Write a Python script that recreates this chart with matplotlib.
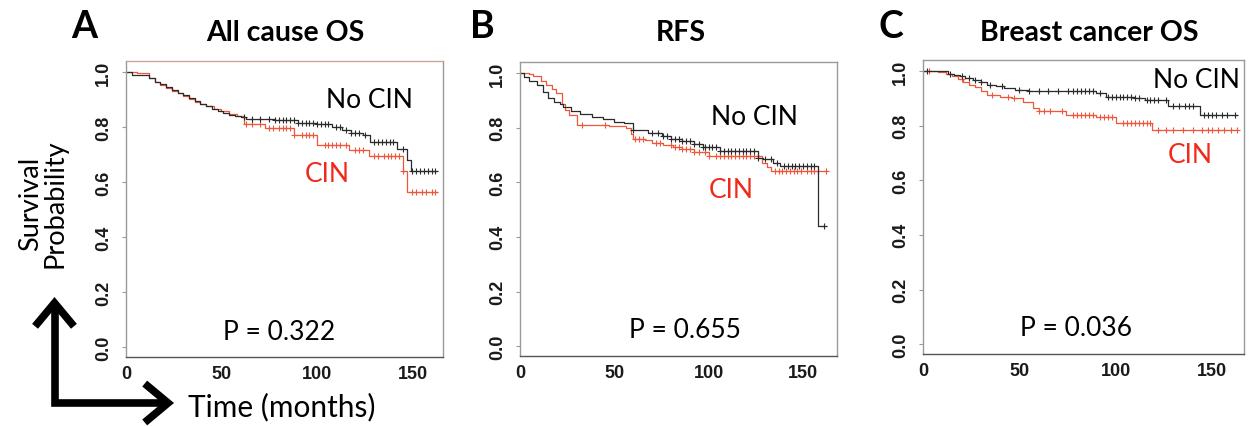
import numpy as np
import matplotlib
matplotlib.use("Agg")
import matplotlib.pyplot as plt
from matplotlib.patches import FancyArrowPatch
from matplotlib.path import Path

# ---- data (time in months, survival probability) ----
a_nocin_t = [0, 3, 12, 15, 18, 21, 24, 27, 30, 33, 36, 39, 42, 45, 48, 51, 54, 57, 60, 63,
             78, 90, 100, 108, 113, 118, 124, 128, 142, 147, 149]
a_nocin_s = [1.0, 0.99, 0.98, 0.965, 0.955, 0.945, 0.935, 0.925, 0.915, 0.905, 0.895, 0.885,
             0.875, 0.866, 0.858, 0.85, 0.845, 0.84, 0.835, 0.83, 0.825, 0.815, 0.81, 0.80,
             0.79, 0.78, 0.77, 0.745, 0.72, 0.68, 0.64]
a_nocin_cens = [62, 66, 70, 75, 78, 80, 82, 84, 86, 88, 90, 92, 94, 96, 98, 100, 102, 104, 106,
                110, 112, 115, 118, 120, 122, 125, 130, 132, 134, 136, 138, 140, 145, 150, 152,
                154, 156, 158, 160, 162]
a_cin_t = [0, 6, 12, 15, 18, 21, 24, 27, 30, 33, 36, 39, 42, 46, 50, 54, 58, 62, 73, 88, 100,
           117, 127, 145, 147]
a_cin_s = [1.0, 0.995, 0.98, 0.965, 0.952, 0.942, 0.932, 0.922, 0.912, 0.902, 0.892, 0.884,
           0.875, 0.866, 0.857, 0.848, 0.84, 0.81, 0.795, 0.77, 0.735, 0.715, 0.695, 0.64, 0.565]
a_cin_cens = [63, 66, 70, 75, 77, 80, 82, 84, 86, 88, 92, 94, 96, 98, 104, 106, 108, 110, 112,
              115, 120, 122, 124, 130, 132, 135, 137, 139, 141, 143, 145, 150, 152, 155, 157,
              160, 162]

b_nocin_t = [0, 2, 5, 9, 12, 15, 18, 21, 23, 27, 32, 38, 44, 50, 55, 60, 68, 75, 80, 86, 92,
             97, 106, 126, 129, 134, 138, 158]
b_nocin_s = [1.0, 0.985, 0.97, 0.955, 0.93, 0.91, 0.895, 0.885, 0.874, 0.862, 0.85, 0.84,
             0.83, 0.822, 0.815, 0.79, 0.78, 0.77, 0.76, 0.75, 0.74, 0.73, 0.715, 0.69, 0.685,
             0.67, 0.66, 0.44]
b_nocin_cens = [60, 70, 73, 76, 78, 80, 82, 84, 86, 88, 90, 92, 95, 97, 98, 100, 102, 104, 106,
                108, 110, 112, 114, 116, 118, 120, 122, 124, 126, 130, 133, 136, 140, 142, 144,
                146, 148, 150, 152, 154, 156, 161]
b_cin_t = [0, 5, 7, 11, 14, 17, 19, 22, 24, 26, 30, 47, 56, 59, 60, 66, 70, 76, 81, 86, 92,
           100, 128, 131, 133]
b_cin_s = [1.0, 0.995, 0.99, 0.97, 0.955, 0.94, 0.925, 0.885, 0.865, 0.845, 0.81, 0.805, 0.80,
           0.775, 0.76, 0.755, 0.745, 0.735, 0.728, 0.72, 0.71, 0.695, 0.67, 0.655, 0.64]
b_cin_cens = [33, 45, 61, 63, 65, 72, 74, 80, 82, 84, 86, 88, 90, 92, 95, 98, 100, 104, 106,
              108, 110, 112, 114, 116, 118, 120, 122, 124, 126, 135, 137, 139, 141, 143, 145,
              147, 149, 152, 154, 156, 158, 162]

c_nocin_t = [0, 13, 16, 19, 22, 26, 30, 33, 38, 42, 48, 55, 90, 95, 110, 115, 127, 144]
c_nocin_s = [1.0, 0.99, 0.985, 0.98, 0.975, 0.968, 0.96, 0.95, 0.945, 0.937, 0.93, 0.925,
             0.92, 0.906, 0.9, 0.894, 0.87, 0.838]
c_nocin_cens = [2, 14, 20, 24, 27, 30, 35, 41, 50, 55, 60, 65, 70, 75, 78, 80, 82, 84, 86, 88,
                92, 96, 98, 100, 102, 104, 106, 108, 110, 112, 116, 118, 120, 122, 126, 130,
                133, 136, 138, 140, 146, 148, 150, 152, 155, 158, 162]
c_cin_t = [0, 8, 12, 15, 18, 21, 24, 27, 30, 33, 40, 46, 52, 57, 60, 74, 90, 100, 119]
c_cin_s = [1.0, 0.995, 0.99, 0.98, 0.97, 0.96, 0.95, 0.94, 0.925, 0.912, 0.905, 0.9, 0.885,
           0.864, 0.855, 0.839, 0.83, 0.81, 0.785]
c_cin_cens = [3, 20, 36, 44, 47, 60, 63, 66, 72, 78, 80, 82, 84, 86, 88, 92, 94, 96, 98, 104,
              106, 108, 110, 112, 114, 116, 118, 122, 126, 130, 135, 140, 145, 148, 150, 153,
              156, 160, 163]

end_time = [163, 162, 163]
p_values = ["P = 0.322", "P = 0.655", "P = 0.036"]
titles = ["All cause OS", "RFS", "Breast cancer OS"]
letters = ["A", "B", "C"]
x_ticks = [0, 50, 100, 150]
y_ticks = [0.0, 0.2, 0.4, 0.6, 0.8, 1.0]

BLACK = "#2b2b2b"
RED = "#f0563a"
TXT_RED = "#f02a1a"
FRAME = "#9a9a9a"

W, H = 1250, 427
fig = plt.figure(figsize=(12.5, 4.27), dpi=100)


def px_box(l, t, r, b):
    return [l / W, 1 - b / H, (r - l) / W, (b - t) / H]


def km(ax, t, s, cens, tend, color):
    t = np.asarray(t, float)
    s = np.asarray(s, float)
    ax.step(np.append(t, tend), np.append(s, s[-1]), where="post", color=color, lw=0.9)
    c = np.asarray(cens, float)
    cy = s[np.searchsorted(t, c, side="right") - 1]
    ax.plot(c, cy, ls="none", marker="+", ms=5, mew=0.8, color=color)


boxes = [px_box(126, 62, 443, 358), px_box(520, 63, 837, 357), px_box(923, 61, 1244, 355)]
xmax = [166, 168, 166.6]
curves = [
    (a_nocin_t, a_nocin_s, a_nocin_cens, a_cin_t, a_cin_s, a_cin_cens),
    (b_nocin_t, b_nocin_s, b_nocin_cens, b_cin_t, b_cin_s, b_cin_cens),
    (c_nocin_t, c_nocin_s, c_nocin_cens, c_cin_t, c_cin_s, c_cin_cens),
]
nocin_xy = [(127.5, 0.90), (124.5, 0.842), (141.7, 0.967)]
cin_xy = [(105.5, 0.63), (112, 0.575), (138.6, 0.693)]
p_xy = [(80, 0.058), (87.4, 0.062), (79.4, 0.062)]
title_x = [285, 681, 1089]
letter_x = [84, 482, 891]

for i in range(3):
    ax = fig.add_axes(boxes[i])
    nt, ns, nc, ct, cs, cc = curves[i]
    km(ax, ct, cs, cc, end_time[i], RED)
    km(ax, nt, ns, nc, end_time[i], BLACK)
    ax.set_xlim(0, xmax[i])
    ax.set_ylim(-0.036, 1.04)
    ax.set_xticks(x_ticks)
    ax.set_yticks(y_ticks)
    ax.tick_params(axis="x", length=0, pad=6, labelsize=13,
                   labelfontfamily="Liberation Sans", labelcolor="#1a1a1a")
    ax.tick_params(axis="y", length=3, width=0.8, color=FRAME, pad=7, labelsize=13,
                   labelfontfamily="Liberation Sans", labelcolor="#1a1a1a",
                   labelrotation=90)
    for lab in ax.get_yticklabels():
        lab.set_va("center")
    for lab in ax.get_xticklabels() + ax.get_yticklabels():
        lab.set_fontweight("bold")
    for side, sp in ax.spines.items():
        sp.set_color(FRAME)
        sp.set_linewidth(1.0)
    ax.spines["bottom"].set_color("#555555")
    if i == 0:
        ax.spines["top"].set_color("#c9a595")

    ax.text(*nocin_xy[i], "No CIN", ha="center", va="center", fontsize=19,
            family="Lato", color="black")
    ax.text(*cin_xy[i], "CIN", ha="center", va="center", fontsize=19,
            family="Lato", color=TXT_RED)
    ax.text(*p_xy[i], p_values[i], ha="center", va="center", fontsize=19,
            family="Lato", color="black")

    fig.text(title_x[i] / W, 1 - 33 / H, titles[i], ha="center", va="center",
             fontsize=20.5, family="Lato", fontweight="bold")
    fig.text(letter_x[i] / W, 1 - 27 / H, letters[i], ha="center", va="center",
             fontsize=27, family="Lato", fontweight="bold")

# shared axis description on the left
fig.text(43 / W, 1 - 204 / H, "Survival\nProbability", rotation=90, ha="center",
         va="center", fontsize=19.5, family="Lato", linespacing=1.0)
fig.text(282 / W, 1 - 407 / H, "Time (months)", ha="center", va="center",
         fontsize=21.5, family="Lato")

corner = (54.5 / W, 1 - 404 / H)
arrow_path = Path([(54.5 / W, 1 - 298 / H), corner, (174 / W, 1 - 404 / H)])
fig.add_artist(FancyArrowPatch(path=arrow_path, transform=fig.transFigure,
                               arrowstyle="<->,head_length=0.6,head_width=0.5",
                               mutation_scale=28, lw=5.5, color="black",
                               joinstyle="miter", capstyle="butt"))

fig.savefig("out.png", dpi=100)
